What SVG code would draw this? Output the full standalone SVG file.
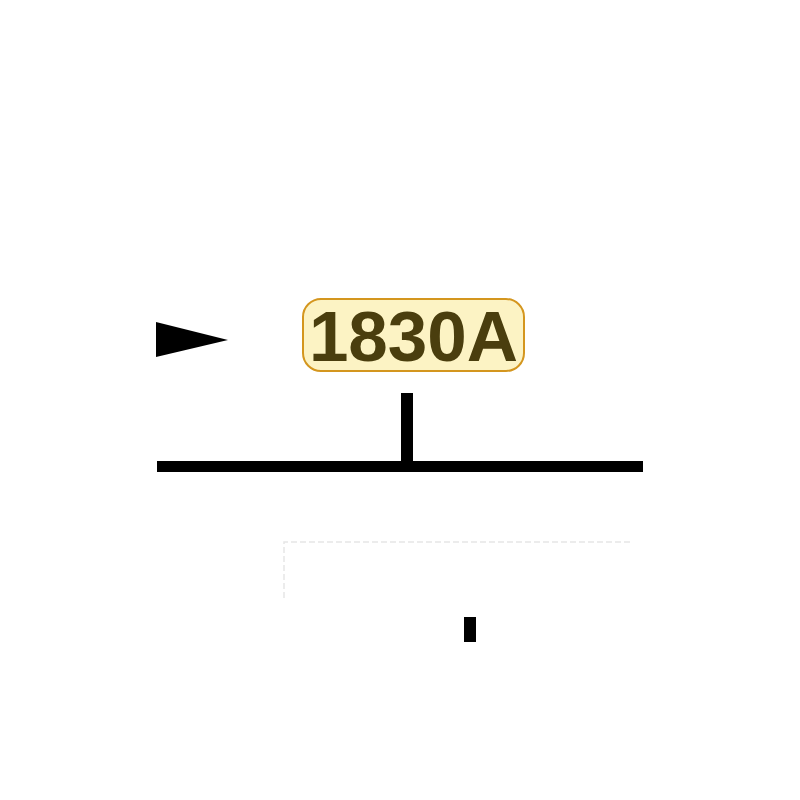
<svg xmlns="http://www.w3.org/2000/svg" width="800" height="800" viewBox="0 0 800 800">
<style>
.wire{stroke:#000;fill:none;stroke-linecap:butt}
.lbl{fill:#fcf3c4;stroke:#d4961e;stroke-width:2}
.txt{font-family:"Liberation Sans",Arial,sans-serif;font-weight:bold;font-size:71px;fill:#4a3e0e}
.ghost{fill:none;stroke:#e6e6e6;stroke-width:1.5;stroke-dasharray:6 3}
</style>
<rect width="800" height="800" fill="#fff"/>
<g id="connectors">
<polygon points="156,322 228,340 156,357" fill="#000"/>
<line class="wire" x1="157" y1="466.5" x2="643" y2="466.5" stroke-width="11"/>
<line class="wire" x1="407" y1="393" x2="407" y2="462" stroke-width="12"/>
<line class="wire" x1="470" y1="617" x2="470" y2="642" stroke-width="12"/>
</g>
<g id="ghost-box">
<path class="ghost" d="M284,598 L284,542 L630,542"/>
</g>
<g id="label-1830A">
<rect class="lbl" x="303" y="299" width="221" height="72" rx="18" ry="18"/>
<text class="txt" x="413.5" y="361" text-anchor="middle">1830A</text>
</g>
</svg>
